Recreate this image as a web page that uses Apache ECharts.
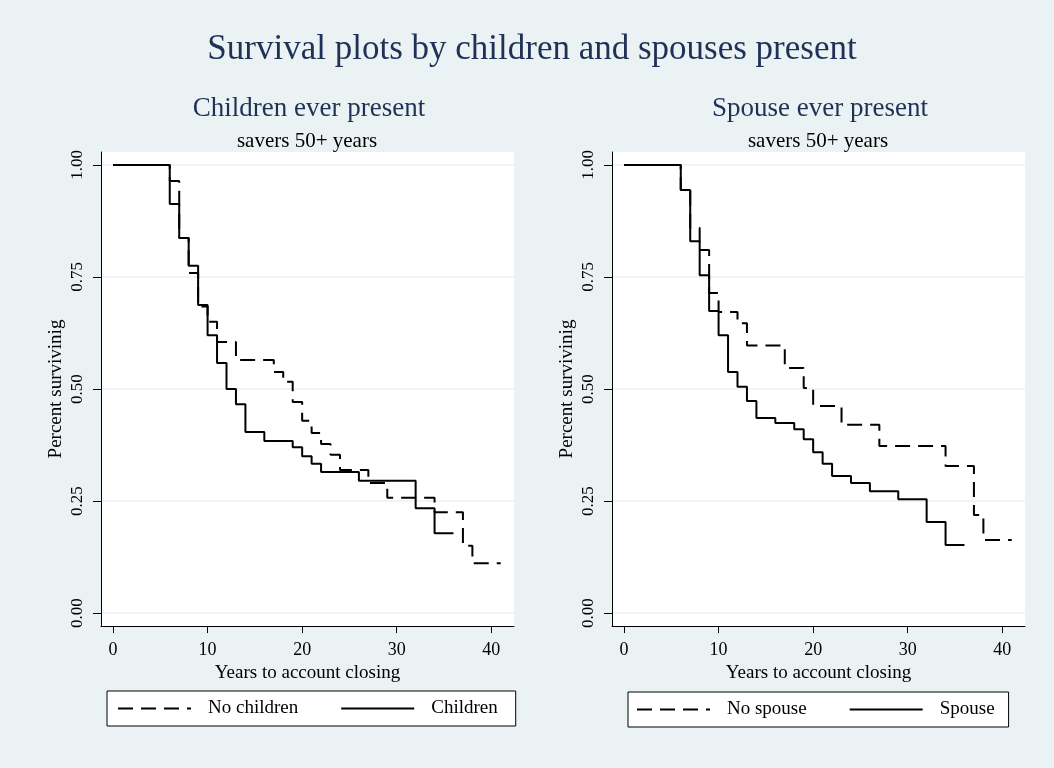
<!DOCTYPE html>
<html>
<head>
<meta charset="utf-8">
<script src="https://cdn.jsdelivr.net/npm/echarts@6/dist/echarts.min.js"></script>
<style>
html,body{margin:0;padding:0;background:#eaf2f3;}
#chart{width:1054px;height:768px;}
</style>
</head>
<body>
<div id="chart"></div>
<script>
// ---- data (years, survival share) ----
const noChildren = [[0,1],[6,0.964],[7,0.837],[8,0.759],[9,0.684],[10,0.65],[11,0.605],[13,0.565],[17,0.538],[18,0.516],[19,0.471],[20,0.429],[21,0.402],[22,0.377],[23,0.353],[24,0.319],[27,0.29],[29,0.257],[34,0.225],[37,0.15],[38,0.111],[41,0.111]];
const children = [[0,1],[6,0.913],[7,0.837],[8,0.775],[9,0.6875],[10,0.62],[11,0.558],[12,0.50],[13,0.466],[14,0.404],[16,0.384],[19,0.37],[20,0.35],[21,0.333],[22,0.315],[26,0.295],[32,0.234],[34,0.178],[36,0.178]];
const noSpouse = [[0,1],[6,0.944],[7,0.86],[8,0.81],[9,0.714],[10,0.672],[12,0.647],[13,0.597],[17,0.547],[19,0.502],[20,0.462],[23,0.42],[27,0.373],[34,0.328],[37,0.219],[38,0.163],[41,0.163]];
const spouse = [[0,1],[6,0.944],[7,0.83],[8,0.754],[9,0.674],[10,0.62],[11,0.538],[12,0.505],[13,0.473],[14,0.435],[16,0.424],[18,0.41],[19,0.388],[20,0.359],[21,0.333],[22,0.306],[24,0.29],[26,0.272],[29,0.254],[32,0.203],[34,0.152],[36,0.152]];
const xTicks = [0,10,20,30,40];
const yTicks = [0,0.25,0.5,0.75,1];
const yTickLabels = ['0.00','0.25','0.50','0.75','1.00'];

const FONT = 'Liberation Serif';
const chart = echarts.init(document.getElementById('chart'), null, {renderer:'canvas'});

function xAxis(idx){
  return {
    gridIndex: idx, type:'value', min:-1.27, max:42.4,
    name:'Years to account closing', nameLocation:'middle', nameGap:33,
    nameTextStyle:{fontFamily:FONT,fontSize:19,color:'#000'},
    axisLine:{show:true,onZero:false,lineStyle:{color:'#000',width:1}},
    axisTick:{show:true,length:7,lineStyle:{color:'#000'},customValues:xTicks},
    axisLabel:{fontFamily:FONT,fontSize:18,color:'#000',margin:15,customValues:xTicks},
    splitLine:{show:false}
  };
}
function yAxis(idx){
  return {
    gridIndex: idx, type:'value', min:-0.029, max:1.029,
    name:'Percent survivinig', nameLocation:'middle', nameGap:35,
    nameTextStyle:{fontFamily:FONT,fontSize:19,color:'#000'},
    axisLine:{show:true,onZero:false,lineStyle:{color:'#000',width:1}},
    axisTick:{show:true,length:8,lineStyle:{color:'#000'},customValues:yTicks},
    axisLabel:{fontFamily:FONT,fontSize:17,color:'#000',rotate:90,margin:15,customValues:yTicks,
      formatter:function(v){const i=yTicks.indexOf(Math.round(v*100)/100);return i>=0?yTickLabels[i]:'';}},
    splitLine:{show:true,lineStyle:{color:'#eaf2f3',width:1.5}}
  };
}
function series(name, data, idx, dashed){
  return {
    name:name, type:'line', xAxisIndex:idx, yAxisIndex:idx, data:data, step:'end',
    symbol:'none', showSymbol:false, animation:false,
    lineStyle:{color:'#000',width:2,type: dashed ? [15,8] : 'solid'},
    itemStyle:{color:'#000'}
  };
}
function legend(names, left, top, pad){
  return {
    data:names, left:left, top:top, orient:'horizontal',
    backgroundColor:'#fff', borderColor:'#000', borderWidth:1, borderRadius:0,
    padding:pad, itemWidth:73, itemHeight:14, itemGap:42,
    itemStyle:{opacity:0, borderWidth:0},
    textStyle:{fontFamily:FONT,fontSize:19,color:'#000',padding:[0,0,0,12]}
  };
}

chart.setOption({
  backgroundColor:'#eaf2f3',
  animation:false,
  title:[
    {text:'Survival plots by children and spouses present', left:527, top:27, textAlign:'center',
     textStyle:{fontFamily:FONT,fontSize:35,fontWeight:'normal',color:'#1f3157'}},
    {text:'Children ever present', left:304, top:90, textAlign:'center',
     textStyle:{fontFamily:FONT,fontSize:27,fontWeight:'normal',color:'#1f3157'}},
    {text:'savers 50+ years', left:302, top:126, textAlign:'center',
     textStyle:{fontFamily:FONT,fontSize:21,fontWeight:'normal',color:'#000'}},
    {text:'Spouse ever present', left:815, top:90, textAlign:'center',
     textStyle:{fontFamily:FONT,fontSize:27,fontWeight:'normal',color:'#1f3157'}},
    {text:'savers 50+ years', left:813, top:126, textAlign:'center',
     textStyle:{fontFamily:FONT,fontSize:21,fontWeight:'normal',color:'#000'}}
  ],
  grid:[
    {left:101, top:152, width:413, height:474, show:true, backgroundColor:'#fff', borderWidth:0},
    {left:612, top:152, width:413, height:474, show:true, backgroundColor:'#fff', borderWidth:0}
  ],
  xAxis:[xAxis(0), xAxis(1)],
  yAxis:[yAxis(0), yAxis(1)],
  legend:[
    legend(['No children','Children'], 107, 691, [8,18,8,10]),
    legend(['No spouse','Spouse'], 628, 692, [8,14,8,8])
  ],
  series:[
    series('No children', noChildren, 0, true),
    series('Children', children, 0, false),
    series('No spouse', noSpouse, 1, true),
    series('Spouse', spouse, 1, false)
  ]
});
</script>
</body>
</html>
